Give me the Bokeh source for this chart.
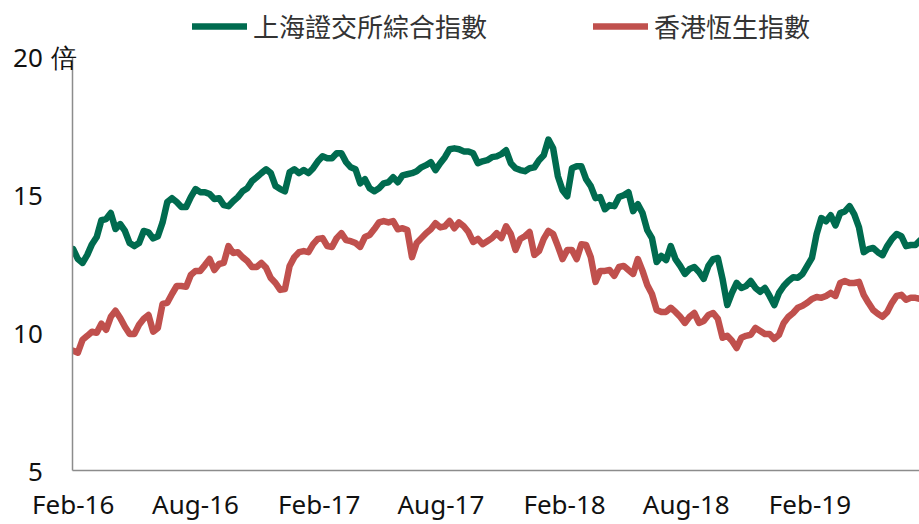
import pandas as pd
from bokeh.plotting import figure
from bokeh.models import (Legend, LegendItem, MonthsTicker,
                          DatetimeTickFormatter, FixedTicker, Range1d)
from bokeh.embed import file_html
from bokeh.resources import INLINE

# weekly P/E readings (倍), first week of Feb-2016 onwards
start_date = "2016-02-01"
shanghai = [
    13.04, 12.68, 12.54, 12.83, 13.22, 13.48, 14.09, 14.13, 14.35, 13.77,
    13.95, 13.70, 13.26, 13.15, 13.26, 13.70, 13.65, 13.43, 13.51, 14.01,
    14.75, 14.89, 14.75, 14.57, 14.57, 14.93, 15.22, 15.11, 15.11, 15.04,
    14.86, 14.89, 14.64, 14.60, 14.78, 14.93, 15.14, 15.25, 15.51, 15.65,
    15.80, 15.94, 15.80, 15.33, 15.22, 15.14, 15.83, 15.94, 15.80, 15.91,
    15.80, 15.98, 16.23, 16.41, 16.34, 16.34, 16.52, 16.52, 16.20, 16.01,
    15.94, 15.43, 15.58, 15.25, 15.14, 15.25, 15.43, 15.47, 15.65, 15.47,
    15.72, 15.76, 15.80, 15.87, 16.01, 16.09, 16.20, 15.91, 16.16, 16.38,
    16.67, 16.70, 16.67, 16.59, 16.59, 16.52, 16.16, 16.23, 16.27, 16.38,
    16.41, 16.49, 16.63, 16.16, 15.98, 15.91, 15.87, 15.98, 16.01, 16.27,
    16.45, 17.02, 16.70, 15.69, 15.18, 14.96, 15.98, 16.05, 16.05, 15.58,
    15.33, 14.89, 14.93, 14.49, 14.64, 14.60, 14.93, 15.00, 15.11, 14.42,
    14.67, 14.35, 13.73, 13.44, 12.57, 12.79, 12.64, 13.15, 12.68, 12.43,
    12.14, 12.32, 12.39, 12.21, 11.96, 12.43, 12.68, 12.72, 11.96, 11.01,
    11.45, 11.81, 11.63, 11.70, 11.88, 11.63, 11.49, 11.63, 11.34, 11.01,
    11.45, 11.70, 11.88, 12.02, 12.00, 12.14, 12.43, 12.72, 13.59, 14.17,
    14.05, 14.27, 13.90, 14.35, 14.41, 14.60, 14.30, 13.83, 12.93, 13.04,
    13.08, 12.93, 12.82, 13.15, 13.41, 13.59, 13.51, 13.15, 13.19, 13.19, 13.36,
]
hangseng = [
    9.35, 9.28, 9.75, 9.89, 10.04, 10.00, 10.33, 10.11, 10.58, 10.80,
    10.54, 10.22, 9.96, 9.96, 10.29, 10.51, 10.65, 10.04, 10.18, 11.05,
    11.09, 11.41, 11.70, 11.70, 11.67, 12.10, 12.25, 12.25, 12.46, 12.68,
    12.28, 12.50, 12.54, 13.15, 12.90, 12.93, 12.75, 12.61, 12.39, 12.39,
    12.54, 12.36, 11.99, 11.81, 11.56, 11.59, 12.43, 12.75, 12.93, 12.97,
    12.93, 13.22, 13.41, 13.44, 13.15, 13.12, 13.44, 13.62, 13.37, 13.33,
    13.26, 13.12, 13.48, 13.55, 13.77, 14.01, 14.06, 14.01, 14.06, 13.76,
    13.80, 13.73, 12.75, 13.26, 13.44, 13.62, 13.76, 13.98, 13.83, 13.87,
    14.06, 13.80, 14.01, 13.87, 13.66, 13.30, 13.41, 13.22, 13.33, 13.44,
    13.62, 13.44, 13.87, 13.59, 13.01, 13.41, 13.51, 13.66, 12.83, 12.97,
    13.41, 13.70, 13.59, 13.15, 12.68, 13.01, 13.01, 12.68, 13.22, 13.19,
    12.75, 11.85, 12.25, 12.25, 12.28, 12.07, 12.39, 12.43, 12.28, 12.14,
    12.68, 12.25, 11.74, 11.41, 10.83, 10.76, 10.76, 10.91, 10.76, 10.58,
    10.36, 10.58, 10.72, 10.36, 10.43, 10.65, 10.72, 10.51, 9.82, 9.89,
    9.71, 9.45, 9.82, 9.89, 9.93, 10.18, 10.07, 9.96, 9.96, 9.78,
    9.93, 10.36, 10.58, 10.72, 10.91, 10.98, 11.09, 11.23, 11.30, 11.27,
    11.34, 11.45, 11.34, 11.81, 11.88, 11.81, 11.81, 11.85, 11.38, 11.09,
    10.83, 10.69, 10.58, 10.76, 11.09, 11.34, 11.38, 11.20, 11.27, 11.27, 11.23,
]
series_names = ["上海證交所綜合指數", "香港恆生指數"]
y_ticks = [5, 10, 15, 20]
unit_label = "倍"

dates = pd.date_range(start_date, periods=len(shanghai), freq="7D")

GREEN = "#006B4F"
RED = "#C0504D"
AXIS = "#8C8C8C"
LATIN = "Noto Sans"
CJK = "Noto Sans CJK TC"

# the frame reaches the top of the canvas so that the legend fits inside it;
# the y axis line itself is bounded to 5..20
p = figure(width=919, height=524, x_axis_type="datetime",
           output_backend="svg", toolbar_location=None,
           x_range=Range1d(pd.Timestamp("2016-01-31"), pd.Timestamp("2019-07-14")),
           y_range=Range1d(5, 22.07),
           min_border_left=72, min_border_right=0,
           min_border_top=0, min_border_bottom=54)
p.outline_line_color = None
p.grid.visible = False

r1 = p.line(dates, shanghai, line_color=GREEN, line_width=6.5, line_join="round", line_cap="round")
r2 = p.line(dates, hangseng, line_color=RED, line_width=6.5, line_join="round", line_cap="round")

xa = p.xaxis[0]
xa.ticker = MonthsTicker(months=[1, 7])
xa.formatter = DatetimeTickFormatter(months="%b-%y", days="%b-%y", years="%b-%y")
xa.axis_line_color = AXIS
xa.axis_line_width = 1.5
xa.major_tick_line_color = None
xa.minor_tick_line_color = None
xa.major_tick_out = 0
xa.major_label_standoff = 15
xa.major_label_text_font = LATIN
xa.major_label_text_font_size = "26px"
xa.major_label_text_color = "#111111"

# y labels: the top one carries the unit; the others are padded with an
# ideographic space so that all numbers stay right-aligned in one column
ya = p.yaxis[0]
ya.ticker = FixedTicker(ticks=y_ticks)
ya.bounds = (min(y_ticks), max(y_ticks))
ya.major_label_overrides = {
    t: (f"{t}\u2004{unit_label}" if t == max(y_ticks) else f"{t}\u2004\u3000")
    for t in y_ticks
}
ya.axis_line_color = AXIS
ya.axis_line_width = 1.5
ya.major_tick_line_color = None
ya.minor_tick_line_color = None
ya.major_tick_out = 0
ya.major_label_standoff = -5
ya.major_label_text_font = LATIN
ya.major_label_text_font_size = "26px"
ya.major_label_text_color = "#111111"

legend = Legend(items=[LegendItem(label=series_names[0], renderers=[r1]),
                       LegendItem(label=series_names[1], renderers=[r2])],
                orientation="horizontal", location=(120, 426),
                padding=0, margin=0, spacing=106, glyph_width=55, glyph_height=20,
                label_standoff=6, label_text_font=CJK, label_text_font_size="26px",
                label_text_color="#333333", border_line_color=None,
                background_fill_alpha=0)
p.add_layout(legend, "center")

open("out.html", "w").write(file_html(p, INLINE))
